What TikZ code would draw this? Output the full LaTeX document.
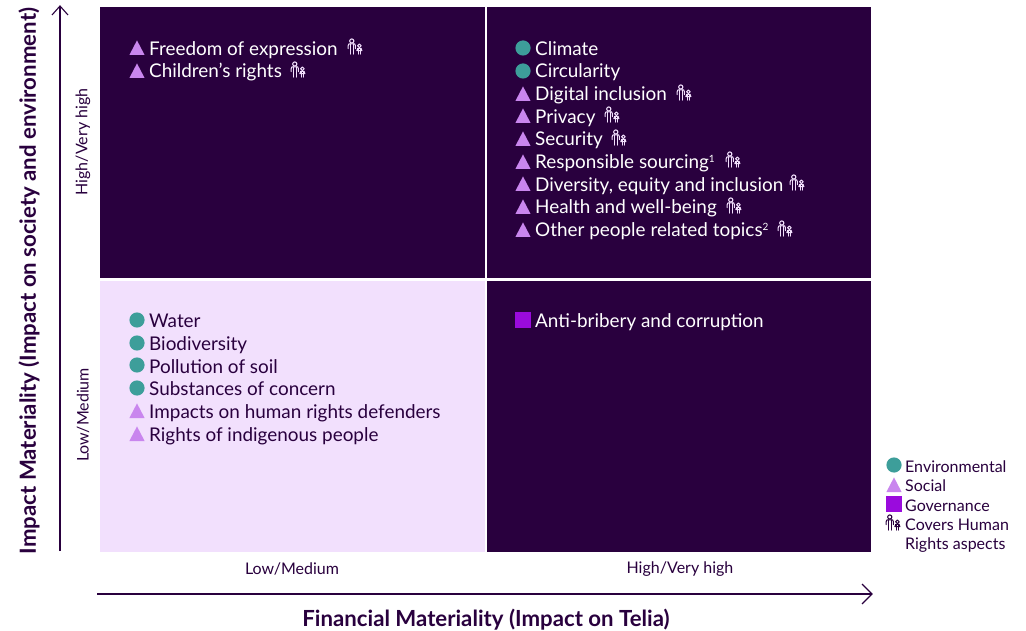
\documentclass[tikz,border=0pt]{standalone}
\usepackage{fontspec}
\setmainfont{Lato}
\definecolor{darkq}{HTML}{29003E}
\definecolor{lightq}{HTML}{F2E0FD}
\definecolor{teal}{HTML}{3D9E9A}
\definecolor{lilac}{HTML}{C986EE}
\definecolor{purp}{HTML}{9A0BDD}
\definecolor{icoW}{HTML}{F2E0FD}
\newcommand{\supnum}[1]{\raisebox{6pt}{\fontsize{10}{10}\selectfont #1}}
\tikzset{
  x=1pt,y=-1pt,
  quad/.style={fill=#1,draw=none,minimum width=0pt,inner sep=0pt},
  itemw/.style={anchor=base west,inner sep=0pt,text=white,font=\fontsize{18.9}{20}\selectfont},
  itemd/.style={anchor=base west,inner sep=0pt,text=darkq,font=\fontsize{18.9}{20}\selectfont},
  axtick/.style={inner sep=0pt,text=darkq,font=\fontsize{16}{18}\selectfont},
  axtitle/.style={inner sep=0pt,text=darkq,font=\fontsize{22.2}{24}\selectfont\bfseries},
  legtxt/.style={anchor=base west,inner sep=0pt,text=darkq,font=\fontsize{16}{18}\selectfont},
  axarrow/.style={draw=darkq,line width=1.1pt},
  envm/.pic={\fill[teal] (0,0) circle (7.6);},
  socm/.pic={\fill[lilac] (-7.6,7) -- (0,-7.6) -- (7.6,7) -- cycle;},
  govm/.pic={\fill[purp] (-7.6,-7.6) rectangle (7.6,7.6);},
  hr/.pic={
    \tikzset{every path/.style={draw=#1,line width=1.05pt,line cap=round,line join=round,fill=none}}
    % adult
    \draw (-3.2,-6) circle (2.1);
    \draw (-6.8,1.6) -- (-6.8,-1.4) .. controls (-6.8,-3.2) and (-5.6,-3.2) .. (-4.8,-3.2) -- (-1.6,-3.2) .. controls (-0.8,-3.2) and (0.4,-3.2) .. (0.4,-1.4) -- (0.4,1.6);
    \draw (-4.6,-3.2) -- (-4.6,7.2);
    \draw (-1.8,-3.2) -- (-1.8,7.2);
    % child
    \draw (4.4,-1.2) circle (1.8);
    \draw (1.9,3.6) -- (2.7,1.4) -- (6.1,1.4) -- (6.9,3.6) -- cycle;
    \draw (3.3,1.4) -- (3.3,7.2);
    \draw (5.5,1.4) -- (5.5,7.2);
  },
}
\begin{document}
\begin{tikzpicture}
\useasboundingbox (0,0) rectangle (1026,631);
\fill[white] (0,0) rectangle (1026,631);
% quadrants
\node[quad=darkq,minimum width=385pt,minimum height=271pt,anchor=north west] (tl) at (100,7) {};
\node[quad=darkq,minimum width=384pt,minimum height=271pt,anchor=north west] (tr) at (487,7) {};
\node[quad=lightq,minimum width=385pt,minimum height=271pt,anchor=north west] (bl) at (100,281) {};
\node[quad=darkq,minimum width=384pt,minimum height=271pt,anchor=north west] (br) at (487,281) {};
% axes
\coordinate (ya) at (60,551);
\coordinate (yb) at (60,6);
\coordinate (xa) at (97,594);
\coordinate (xb) at (872,594);
\draw[axarrow] (ya) -- (yb);
\draw[axarrow,line join=miter] (52,15) -- (yb) -- (68,15);
\draw[axarrow] (xa) -- (xb);
\draw[axarrow,line join=miter] (862,584) -- (xb) -- (862,604);
% axis labels
\node[axtitle,rotate=90] (ytitle) at (29,281) {Impact Materiality (Impact on society and environment)};
\node[axtitle] (xtitle) at (486,620) {Financial Materiality (Impact on Telia)};
\node[axtick,rotate=90] (yhi) at (83,142) {High/Very high};
\node[axtick,rotate=90] (ylo) at (83,415) {Low/Medium};
\node[axtick] (xlo) at (292,569) {Low/Medium};
\node[axtick] (xhi) at (680,569) {High/Very high};
% top left
\pic at (137,48) {socm};
\node[itemw] (a1) at (149,55.5) {Freedom of expression};
\pic at (355,47) {hr=icoW};
\pic at (137,71) {socm};
\node[itemw] (a2) at (149,78) {Children’s rights};
\pic at (298,70) {hr=icoW};
% top right
\pic at (523,48) {envm};
\node[itemw] (b1) at (535,55.5) {Climate};
\pic at (523,71) {envm};
\node[itemw] (b2) at (535,78) {Circularity};
\pic at (523,94) {socm};
\node[itemw] (b3) at (535,100.5) {Digital inclusion};
\pic at (684,93) {hr=icoW};
\pic at (523,116) {socm};
\node[itemw] (b4) at (535,123.5) {Privacy};
\pic at (612,115) {hr=icoW};
\pic at (523,139) {socm};
\node[itemw] (b5) at (535,146) {Security};
\pic at (619,138) {hr=icoW};
\pic at (523,162) {socm};
\node[itemw] (b6) at (535,168.5) {Responsible sourcing\supnum{1}};
\pic at (733,160) {hr=icoW};
\pic at (523,184) {socm};
\node[itemw] (b7) at (535,191.5) {Diversity, equity and inclusion};
\pic at (797,183) {hr=icoW};
\pic at (523,207) {socm};
\node[itemw] (b8) at (535,214) {Health and well-being};
\pic at (734,206) {hr=icoW};
\pic at (523,230) {socm};
\node[itemw] (b9) at (535,236.5) {Other people related topics\supnum{2}};
\pic at (785,229) {hr=icoW};
% bottom left
\pic at (137,320) {envm};
\node[itemd] (c1) at (149,327.5) {Water};
\pic at (137,343) {envm};
\node[itemd] (c2) at (149,350) {Biodiversity};
\pic at (137,365) {envm};
\node[itemd] (c3) at (149,373) {Pollution of soil};
\pic at (137,388) {envm};
\node[itemd] (c4) at (149,395.5) {Substances of concern};
\pic at (137,411) {socm};
\node[itemd] (c5) at (149,418.5) {Impacts on human rights defenders};
\pic at (137,434) {socm};
\node[itemd] (c6) at (149,441) {Rights of indigenous people};
% bottom right
\pic at (523,320) {govm};
\node[itemw] (d1) at (535,327.5) {Anti-bribery and corruption};
% legend
\pic at (894,465) {envm};
\node[legtxt] (l1) at (905,472) {Environmental};
\pic at (894,485) {socm};
\node[legtxt] (l2) at (905,491) {Social};
\pic at (894,504) {govm};
\node[legtxt] (l3) at (905,511) {Governance};
\pic at (893,523) {hr=darkq};
\node[legtxt] (l4) at (905,530) {Covers Human};
\node[legtxt] (l5) at (905,549) {Rights aspects};
\end{tikzpicture}
\end{document}
